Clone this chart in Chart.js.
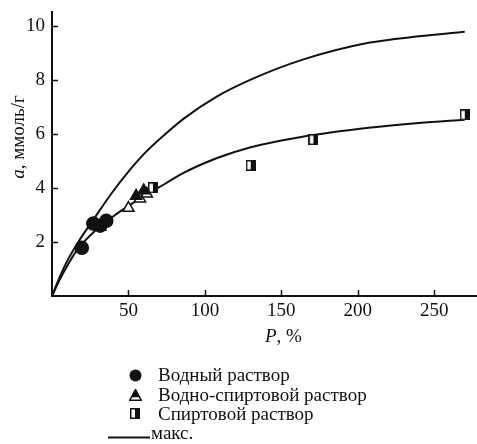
<!DOCTYPE html>
<html>
<head>
<meta charset="utf-8">
<script src="https://cdn.jsdelivr.net/npm/chart.js@4"></script>
<style>
  html, body { margin: 0; padding: 0; background: #fff; overflow: hidden; }
  #wrap { position: relative; width: 477px; height: 444px; }
  #chart { display: block; }
  #legend { position: absolute; left: 0; top: 0; font-family: "Liberation Serif", serif; font-size: 19px; color: #111; }
  .row { position: absolute; white-space: nowrap; line-height: 20px; }
  .mk { position: absolute; }
</style>
</head>
<body>
<div id="wrap">
  <canvas id="chart" width="477" height="444"></canvas>
  <div id="legend">
    <svg class="mk" style="left:129px;top:369px" width="13" height="13"><circle cx="6.5" cy="6.5" r="6" fill="#111"/></svg>
    <div class="row" style="left:158px;top:365px">Водный раствор</div>
    <svg class="mk" style="left:129px;top:389px" width="13" height="12"><polygon points="6.5,0.5 12.3,11.3 0.7,11.3" fill="#fff" stroke="#111" stroke-width="1.5"/><polygon points="6.5,0.5 10.6,8.3 2.4,8.3" fill="#111"/></svg>
    <div class="row" style="left:158px;top:385px">Водно-спиртовой раствор</div>
    <svg class="mk" style="left:130px;top:408px" width="10" height="11"><rect x="0.75" y="0.75" width="8.5" height="9.5" fill="#fff" stroke="#111" stroke-width="1.5"/><rect x="5" y="0" width="5" height="11" fill="#111"/></svg>
    <div class="row" style="left:158px;top:404px">Спиртовой раствор</div>
    <svg class="mk" style="left:108px;top:436px" width="42" height="3"><line x1="0" y1="1.5" x2="42" y2="1.5" stroke="#111" stroke-width="2"/></svg>
    <div class="row" style="left:151px;top:423px">макс.</div>
  </div>
</div>
<script>
// axis ticks
const xTicks = [50, 100, 150, 200, 250];
const yTicks = [2, 4, 6, 8, 10];

// measured points
const waterP = [19.5, 27, 31.5, 35.5];
const waterA = [1.78, 2.68, 2.6, 2.78];
const mixFilledP = [31.5, 55, 60];
const mixFilledA = [2.55, 3.7, 3.9];
const mixOpenP = [50, 57.5, 62];
const mixOpenA = [3.25, 3.6, 3.78];
const alcoholP = [66, 130, 171, 270];
const alcoholA = [4.0, 4.83, 5.78, 6.7];

// curves
const curveP = [0, 5, 10, 17, 28, 39, 50, 61, 74, 86, 108, 130, 163, 207, 240, 270];
const maxA = [0, 0.7, 1.3, 1.98, 2.9, 3.8, 4.6, 5.3, 5.98, 6.55, 7.38, 8.0, 8.72, 9.36, 9.6, 9.77];
const fitA = [0, 0.6, 1.12, 1.75, 2.4, 2.9, 3.33, 3.72, 4.15, 4.55, 5.1, 5.5, 5.88, 6.22, 6.4, 6.52];

const pts = (xs, ys) => xs.map((x, i) => ({ x: x, y: ys[i] }));

// half open / half black square marker
const halfSquare = document.createElement("canvas");
halfSquare.width = 10;
halfSquare.height = 11;
(function () {
    let c = halfSquare.getContext("2d");
    c.fillStyle = "#fff";
    c.fillRect(0, 0, 10, 11);
    c.strokeStyle = "#111";
    c.lineWidth = 1.5;
    c.strokeRect(0.75, 0.75, 8.5, 9.5);
    c.fillStyle = "#111";
    c.fillRect(5, 0, 5, 11);
})();

const FONT = "Liberation Serif";
const FS = 19;

// inward tick marks + axis titles with italic symbols
const extras = {
    id: "extras",
    afterDraw(chart) {
        const ctx = chart.ctx;
        const xs = chart.scales.x, ys = chart.scales.y;
        const area = chart.chartArea;
        ctx.save();
        ctx.strokeStyle = "#111";
        ctx.lineWidth = 1.5;
        ctx.beginPath();
        xTicks.forEach(v => {
            let px = Math.round(xs.getPixelForValue(v)) + 0.5;
            ctx.moveTo(px, area.bottom);
            ctx.lineTo(px, area.bottom - 6);
        });
        yTicks.forEach(v => {
            let py = Math.round(ys.getPixelForValue(v)) + 0.5;
            ctx.moveTo(area.left, py);
            ctx.lineTo(area.left + 6, py);
        });
        ctx.stroke();

        ctx.fillStyle = "#111";
        ctx.textBaseline = "middle";
        // x title
        ctx.font = "italic " + FS + "px '" + FONT + "'";
        let x0 = 265;
        ctx.fillText("P", x0, 337);
        let w = ctx.measureText("P").width;
        ctx.font = FS + "px '" + FONT + "'";
        ctx.fillText(", %", x0 + w, 337);

        // y title
        ctx.translate(19, 137);
        ctx.rotate(-Math.PI / 2);
        ctx.font = "italic " + FS + "px '" + FONT + "'";
        let wa = ctx.measureText("a").width;
        ctx.font = FS + "px '" + FONT + "'";
        let wr = ctx.measureText(", ммоль/г").width;
        let sx = -(wa + wr) / 2;
        ctx.font = "italic " + FS + "px '" + FONT + "'";
        ctx.fillText("a", sx, 0);
        ctx.font = FS + "px '" + FONT + "'";
        ctx.fillText(", ммоль/г", sx + wa, 0);
        ctx.restore();
    }
};

const marker = (label, data, style, radius, fill) => ({
    label: label,
    data: data,
    pointStyle: style,
    pointRadius: radius,
    pointBackgroundColor: fill,
    pointBorderColor: "#111",
    pointBorderWidth: 1.5,
    showLine: false
});

new Chart(document.getElementById("chart"), {
    type: "scatter",
    data: {
        datasets: [
            marker("Водный раствор", pts(waterP, waterA), "circle", 6.5, "#111"),
            marker("Водно-спиртовой раствор", pts(mixFilledP, mixFilledA), "triangle", 6.5, "#111"),
            marker("Водно-спиртовой раствор (2)", pts(mixOpenP, mixOpenA), "triangle", 6.5, "#fff"),
            marker("Спиртовой раствор", pts(alcoholP, alcoholA), halfSquare, 5, "#fff"),
            {
                label: "макс.",
                data: pts(curveP, maxA),
                showLine: true,
                borderColor: "#111",
                borderWidth: 2,
                pointRadius: 0,
                cubicInterpolationMode: "monotone"
            },
            {
                label: "fit",
                data: pts(curveP, fitA),
                showLine: true,
                borderColor: "#111",
                borderWidth: 2,
                pointRadius: 0,
                cubicInterpolationMode: "monotone"
            }
        ]
    },
    options: {
        responsive: false,
        animation: false,
        layout: { autoPadding: false, padding: { top: 12, right: 0, bottom: 126, left: 0 } },
        plugins: { legend: { display: false }, tooltip: { enabled: false } },
        scales: {
            x: {
                type: "linear",
                min: 0,
                max: 278,
                afterBuildTicks: s => { s.ticks = xTicks.map(v => ({ value: v })); },
                afterFit: s => { s.height = 22; s.paddingLeft = 0; s.paddingRight = 0; },
                grid: { display: true, drawOnChartArea: false, drawTicks: false },
                border: { display: true, color: "#111", width: 2 },
                ticks: { padding: 4, color: "#111", font: { family: FONT, size: FS } }
            },
            y: {
                type: "linear",
                min: 0,
                max: 10.5,
                afterBuildTicks: s => { s.ticks = yTicks.map(v => ({ value: v })); },
                afterFit: s => { s.width = 52; s.paddingTop = 0; s.paddingBottom = 0; },
                grid: { display: true, drawOnChartArea: false, drawTicks: false },
                border: { display: true, color: "#111", width: 2 },
                ticks: { padding: 7, color: "#111", font: { family: FONT, size: FS } }
            }
        }
    },
    plugins: [extras]
});
</script>
</body>
</html>
